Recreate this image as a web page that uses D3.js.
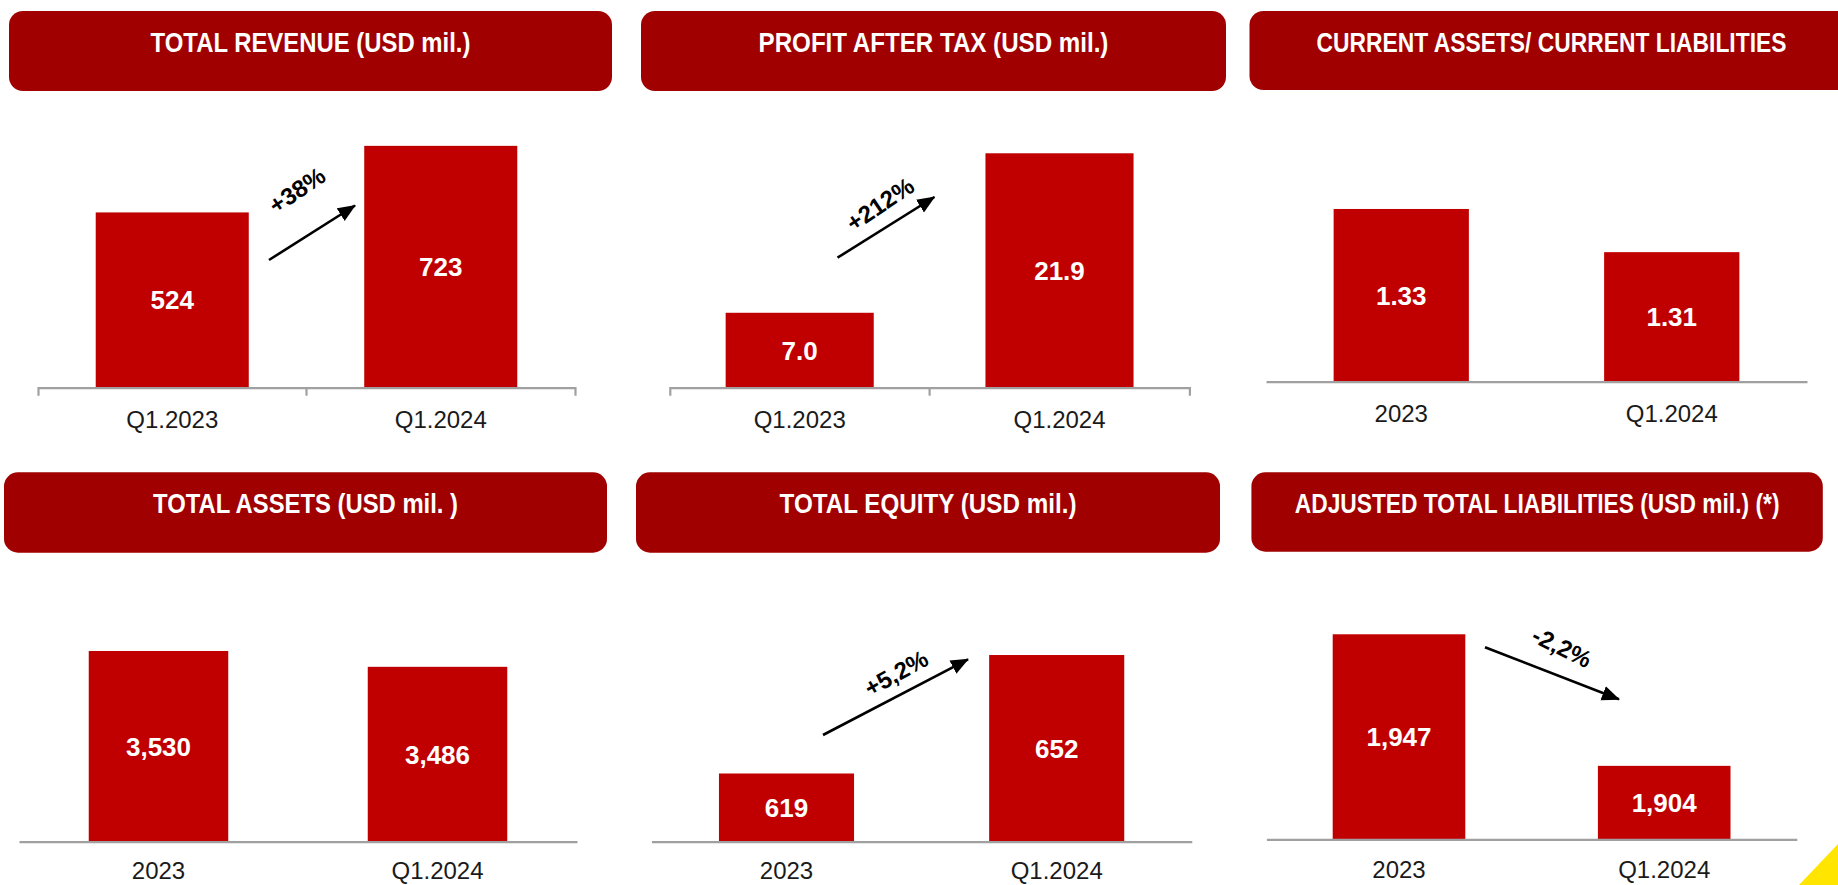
<!DOCTYPE html>
<html lang="en">
<head>
<meta charset="UTF-8">
<title>Q1.2024 financial highlights</title>
<script src="https://cdn.jsdelivr.net/npm/d3@7"></script>
<style>
  html, body { margin: 0; padding: 0; background: #fff; }
  svg { display: block; }
  .title { font-family: "Liberation Sans", Arial, sans-serif; font-weight: bold; fill: #fff; font-size: 28px; }
  .val { font-family: "Liberation Sans", Arial, sans-serif; font-weight: bold; fill: #fff; font-size: 26px; }
  .pct { font-family: "Liberation Sans", Arial, sans-serif; font-weight: bold; font-size: 24px; fill: #000; }
</style>
</head>
<body>
<svg id="chart" width="1838" height="885"></svg>
<script>
// chart values
const titles = [
  'TOTAL REVENUE (USD mil.)',
  'PROFIT AFTER TAX (USD mil.)',
  'CURRENT ASSETS/ CURRENT LIABILITIES',
  'TOTAL ASSETS (USD mil. )',
  'TOTAL EQUITY (USD mil.)',
  'ADJUSTED TOTAL LIABILITIES (USD mil.) (*)'
]
const quarterCats = ['Q1.2023', 'Q1.2024']
const yearCats = ['2023', 'Q1.2024']

const revenue = [524, 723]
const profit = [7.0, 21.9]
const currentRatio = [1.33, 1.31]
const totalAssets = [3530, 3486]
const totalEquity = [619, 652]
const adjLiabilities = [1947, 1904]

// value axis ranges (the source axes are hidden)
const yMins = [0, 0, 1.25, 3000, 600, 1880]
const yMaxs = [800, 25, 1.35, 3600, 660, 1950]

const changes = ['+38%', '+212%', null, null, '+5,2%', '-2,2%']

// layout of each panel on the slide
const charts = [
  { cats: quarterCats, vals: revenue, fmt: d3.format(','), head: [9, 11, 603, 80], titleW: 320,
    x: [38, 575], axisY: 387.7, h: 267.6, pin: 0.43, pout: 0.215, ticks: true, labY: 40,
    arrow: [269, 260, 355, 205.5], pct: [297, 190, -34] },
  { cats: quarterCats, vals: profit, fmt: d3.format('.1f'), head: [641, 11, 585, 80], titleW: 350,
    x: [669.8, 1189.4], axisY: 387.7, h: 267.6, pin: 0.43, pout: 0.215, ticks: true, labY: 40,
    arrow: [837.5, 257.7, 934.4, 197], pct: [880, 204, -34] },
  { cats: yearCats, vals: currentRatio, fmt: d3.format('.2f'), head: [1249.5, 11, 604, 79], titleW: 470,
    x: [1266, 1807], axisY: 381.7, h: 215.9, pin: 0.5, pout: 0.25, ticks: false, labY: 40 },
  { cats: yearCats, vals: totalAssets, fmt: d3.format(','), head: [4, 472.3, 603, 80.4], titleW: 305,
    x: [19, 577], axisY: 841.7, h: 215.9, pin: 0.5, pout: 0.25, ticks: false, labY: 37 },
  { cats: yearCats, vals: totalEquity, fmt: d3.format(','), head: [636, 472.3, 584, 80.4], titleW: 297,
    x: [651.4, 1191.8], axisY: 841.7, h: 215.4, pin: 0.5, pout: 0.25, ticks: false, labY: 37,
    arrow: [823, 735, 968, 659.3], pct: [896, 673, -29] },
  { cats: yearCats, vals: adjLiabilities, fmt: d3.format(','), head: [1251.4, 472.3, 571.4, 79.4], titleW: 485,
    x: [1266.4, 1796.8], axisY: 839.3, h: 214.2, pin: 0.5, pout: 0.25, ticks: false, labY: 39,
    arrow: [1485, 647.3, 1619, 699.3], pct: [1562, 647, 26] }
]

const svg = d3.select('#chart')

svg.append('defs').append('marker')
  .attr('id', 'head')
  .attr('markerUnits', 'userSpaceOnUse')
  .attr('markerWidth', 20).attr('markerHeight', 16)
  .attr('refX', 17).attr('refY', 7.5)
  .attr('orient', 'auto')
  .append('path')
  .attr('d', 'M0,0L18,7.5L0,15Z')
  .attr('fill', '#000')

charts.forEach((c, i) => {
  let g = svg.append('g')

  // header box
  g.append('rect')
    .attr('x', c.head[0]).attr('y', c.head[1])
    .attr('width', c.head[2]).attr('height', c.head[3])
    .attr('rx', 14).attr('ry', 14)
    .attr('fill', '#a00000')

  // title squeezed horizontally to look like the condensed slide font
  let title = g.append('text')
    .attr('class', 'title')
    .attr('text-anchor', 'middle')
    .text(titles[i])
  let natural = title.node().getComputedTextLength()
  let sx = Math.min(1, c.titleW / natural)
  title.attr('transform', 'translate(' + (c.head[0] + c.head[2] / 2) + ',' + (c.head[1] + 41) + ') scale(' + sx + ',1)')

  let xScale = d3.scaleBand()
    .domain(c.cats)
    .range(c.x)
    .paddingInner(c.pin)
    .paddingOuter(c.pout)

  let yScale = d3.scaleLinear()
    .domain([yMins[i], yMaxs[i]])
    .range([c.axisY, c.axisY - c.h])

  g.selectAll('rect.bar')
    .data(c.vals)
    .enter()
    .append('rect')
    .attr('class', 'bar')
    .attr('x', (d, j) => xScale(c.cats[j]))
    .attr('y', d => yScale(d))
    .attr('width', xScale.bandwidth())
    .attr('height', d => c.axisY - yScale(d))
    .attr('fill', '#c00000')

  g.selectAll('text.val')
    .data(c.vals)
    .enter()
    .append('text')
    .attr('class', 'val')
    .attr('x', (d, j) => xScale(c.cats[j]) + xScale.bandwidth() / 2)
    .attr('y', d => (yScale(d) + c.axisY) / 2)
    .attr('dy', '0.36em')
    .attr('text-anchor', 'middle')
    .text(d => c.fmt(d))

  // category axis
  let xAxis = d3.axisBottom(xScale).tickSize(0).tickSizeOuter(c.ticks ? 8 : 0)
  let ax = g.append('g')
    .attr('class', 'cat')
    .attr('transform', 'translate(0,' + c.axisY + ')')
    .call(xAxis)
  ax.select('.domain').attr('stroke', '#a0a0a0').attr('stroke-width', 2.2)
  ax.selectAll('.tick text').attr('y', c.labY).attr('dy', 0)
    .style('font-family', '"Liberation Sans", Arial, sans-serif').style('font-size', '24px').attr('fill', '#1a1a1a')
  if (c.ticks) {
    // boundary between the two bands
    let mid = (xScale.range()[0] + xScale.range()[1]) / 2
    ax.append('line')
      .attr('x1', mid).attr('x2', mid)
      .attr('y1', 0).attr('y2', 8)
      .attr('stroke', '#a0a0a0').attr('stroke-width', 2.2)
  }

  // change arrow and label
  if (c.arrow) {
    g.append('line')
      .attr('x1', c.arrow[0]).attr('y1', c.arrow[1])
      .attr('x2', c.arrow[2]).attr('y2', c.arrow[3])
      .attr('stroke', '#000').attr('stroke-width', 2.6)
      .attr('marker-end', 'url(#head)')
    g.append('text')
      .attr('class', 'pct')
      .attr('text-anchor', 'middle')
      .attr('dy', '0.36em')
      .attr('transform', 'translate(' + c.pct[0] + ',' + c.pct[1] + ') rotate(' + c.pct[2] + ')')
      .text(changes[i])
  }
})

// yellow corner of the slide
svg.append('path')
  .attr('d', 'M1799,885L1838,844L1838,885Z')
  .attr('fill', '#ffe500')
</script>
</body>
</html>
